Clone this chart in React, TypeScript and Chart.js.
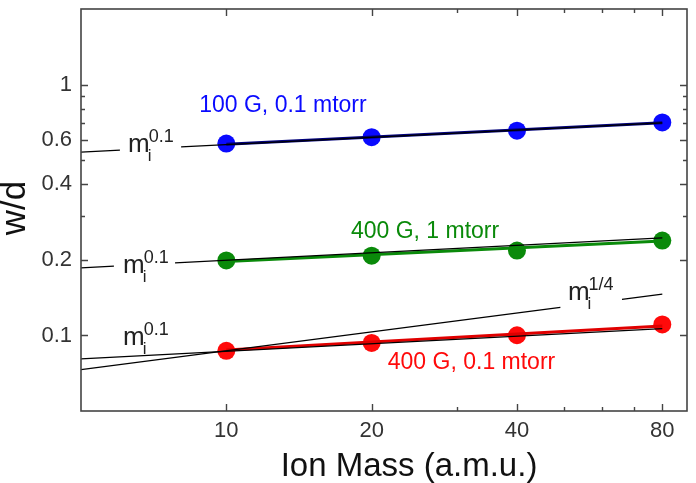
import React, { useEffect, useRef } from "react";
import { Chart, registerables } from "chart.js";

Chart.register(...registerables);

// Measured w/d against ion mass
const ionMass = [10, 20, 40, 80];
const wd100G01 = [0.582, 0.617, 0.655, 0.706];
const wd400G1 = [0.199, 0.208, 0.218, 0.239];
const wd400G01 = [0.0869, 0.0934, 0.1002, 0.1106];

// Fitted lines through each series (end points)
const fitMass = [10, 80];
const fit100G01 = [0.578, 0.705];
const fit400G1 = [0.197, 0.238];
const fit400G01 = [0.0875, 0.109];

// Power-law guide lines; a null leaves room for the label
const guideMassBlue = [5, 6.02, 7, 8.06, 80];
const guideBlue = [0.538, 0.548, null, 0.564, 0.703];
const guideMassGreen = [5, 5.85, 6.8, 7.83, 80];
const guideGreen = [0.186, 0.189, null, 0.1945, 0.245];
const guideMassRed = [5, 80];
const guideRed = [0.0807, 0.1065];
const guideMassQuarter = [5, 49.2, 57, 66, 80];
const guideQuarter = [0.0731, 0.1295, null, 0.1393, 0.146];

// Axis ticks
const xTickValues = [10, 20, 40, 80];
const xTickLabels = ["10", "20", "40", "80"];
const xMinorValues = [30, 50, 60, 70];
const yTickValues = [0.1, 0.2, 0.4, 0.6, 1];
const yTickLabels = ["0.1", "0.2", "0.4", "0.6", "1"];
const yMinorValues = [0.3, 0.5, 0.7, 0.8, 0.9];

// Text
const seriesNames = ["100 G, 0.1 mtorr", "400 G, 1 mtorr", "400 G, 0.1 mtorr"];
const xTitle = "Ion Mass (a.m.u.)";
const yTitle = "w/d";

const FONT = "'Liberation Sans', Arial, sans-serif";
const BLUE = "#0a0aff";
const GREEN = "#0a8a0a";
const RED = "#ff0a0a";

const toPts = (xs: number[], ys: (number | null)[]) =>
  xs.map((x, i) => ({ x, y: ys[i] }));

// Where the series names and exponent labels sit, in data units
const seriesLabelPos = [
  { x: 13.1, y: 0.822, color: BLUE },
  { x: 25.8, y: 0.26, color: GREEN },
  { x: 32.2, y: 0.0776, color: RED },
];
const powerLabelPos = [
  { x: 6.26, y: 0.536, exp: "0.1" },
  { x: 6.11, y: 0.177, exp: "0.1" },
  { x: 6.11, y: 0.0915, exp: "0.1" },
  { x: 51.0, y: 0.139, exp: "1/4" },
];

const decorations = {
  id: "decorations",
  afterDatasetsDraw(chart: any) {
    const { ctx, chartArea: a, scales } = chart;
    const xs = scales.x;
    const ys = scales.y;
    ctx.save();

    // frame
    ctx.strokeStyle = "#444";
    ctx.lineWidth = 1.6;
    ctx.strokeRect(a.left, a.top, a.right - a.left, a.bottom - a.top);

    // inward ticks on all four sides
    ctx.lineWidth = 1.4;
    const xTick = (v: number, len: number) => {
      const p = Math.round(xs.getPixelForValue(v)) + 0.5;
      ctx.beginPath();
      ctx.moveTo(p, a.bottom);
      ctx.lineTo(p, a.bottom - len);
      ctx.moveTo(p, a.top);
      ctx.lineTo(p, a.top + len);
      ctx.stroke();
    };
    const yTick = (v: number, len: number) => {
      const p = Math.round(ys.getPixelForValue(v)) + 0.5;
      ctx.beginPath();
      ctx.moveTo(a.left, p);
      ctx.lineTo(a.left + len, p);
      ctx.moveTo(a.right, p);
      ctx.lineTo(a.right - len, p);
      ctx.stroke();
    };
    xTickValues.forEach((v) => xTick(v, 7));
    xMinorValues.forEach((v) => xTick(v, 4));
    yTickValues.forEach((v) => yTick(v, 7));
    yMinorValues.forEach((v) => yTick(v, 4));

    // series names
    ctx.textAlign = "center";
    ctx.textBaseline = "middle";
    ctx.font = `23px ${FONT}`;
    seriesLabelPos.forEach((p, i) => {
      ctx.fillStyle = p.color;
      ctx.fillText(seriesNames[i], xs.getPixelForValue(p.x), ys.getPixelForValue(p.y));
    });

    // m_i^p labels
    ctx.textAlign = "left";
    ctx.textBaseline = "alphabetic";
    ctx.fillStyle = "#222";
    powerLabelPos.forEach((p) => {
      const px = xs.getPixelForValue(p.x);
      const py = ys.getPixelForValue(p.y);
      ctx.font = `26px ${FONT}`;
      ctx.fillText("m", px, py);
      const w = ctx.measureText("m").width;
      ctx.font = `17px ${FONT}`;
      ctx.fillText("i", px + w - 2, py + 9);
      ctx.font = `18px ${FONT}`;
      ctx.fillText(p.exp, px + w - 1, py - 10);
    });

    // axis titles
    ctx.fillStyle = "#111";
    ctx.font = `33px ${FONT}`;
    ctx.textAlign = "center";
    ctx.fillText(xTitle, (a.left + a.right) / 2 + 25, 476);
    ctx.save();
    ctx.font = `35px ${FONT}`;
    ctx.translate(25, (a.top + a.bottom) / 2 - 2);
    ctx.rotate(-Math.PI / 2);
    ctx.fillText(yTitle, 0, 0);
    ctx.restore();

    ctx.restore();
  },
};

export default function App() {
  const canvasRef = useRef<HTMLCanvasElement | null>(null);

  useEffect(() => {
    const canvas = canvasRef.current;
    if (!canvas) return;

    const pointSet = (data: number[], color: string) => ({
      data: toPts(ionMass, data),
      showLine: false,
      pointRadius: 9,
      pointHoverRadius: 9,
      pointBackgroundColor: color,
      pointBorderWidth: 0,
      borderColor: color,
      order: 3,
    });
    const fitSet = (data: number[], color: string) => ({
      data: toPts(fitMass, data),
      borderColor: color,
      borderWidth: 3,
      pointRadius: 0,
      order: 2,
    });
    const guideSet = (xs: number[], data: (number | null)[]) => ({
      data: toPts(xs, data),
      borderColor: "#000",
      borderWidth: 1.3,
      pointRadius: 0,
      spanGaps: false,
      order: 1,
    });

    const chart = new Chart(canvas, {
      type: "line",
      data: {
        datasets: [
          pointSet(wd100G01, BLUE),
          pointSet(wd400G1, GREEN),
          pointSet(wd400G01, RED),
          fitSet(fit100G01, "#00007a"),
          fitSet(fit400G1, GREEN),
          fitSet(fit400G01, "#e00000"),
          guideSet(guideMassBlue, guideBlue),
          guideSet(guideMassGreen, guideGreen),
          guideSet(guideMassRed, guideRed),
          guideSet(guideMassQuarter, guideQuarter),
        ] as any,
      },
      options: {
        animation: false,
        responsive: true,
        maintainAspectRatio: false,
        layout: { padding: { top: 8, right: 9, left: 0, bottom: 0 } },
        plugins: {
          legend: { display: false },
          tooltip: { enabled: false },
        },
        scales: {
          x: {
            type: "logarithmic",
            min: 5,
            max: 90,
            grid: { display: false, drawTicks: false },
            border: { display: false },
            afterBuildTicks: (s: any) => {
              s.ticks = xTickValues.map((value) => ({ value }));
            },
            afterFit: (s: any) => {
              s.height = 72;
              s.paddingLeft = 0;
              s.paddingRight = 0;
            },
            ticks: {
              autoSkip: false,
              maxRotation: 0,
              padding: 7,
              color: "#333",
              font: { family: FONT, size: 22 },
              callback: (v: any) => xTickLabels[xTickValues.indexOf(Number(v))] ?? "",
            },
          },
          y: {
            type: "logarithmic",
            min: 0.05,
            max: 2,
            grid: { display: false, drawTicks: false },
            border: { display: false },
            afterBuildTicks: (s: any) => {
              s.ticks = yTickValues.map((value) => ({ value }));
            },
            afterFit: (s: any) => {
              s.width = 81;
              s.paddingTop = 0;
              s.paddingBottom = 0;
            },
            ticks: {
              autoSkip: false,
              padding: 9,
              color: "#333",
              font: { family: FONT, size: 22 },
              callback: (v: any) => yTickLabels[yTickValues.indexOf(Number(v))] ?? "",
            },
          },
        },
      } as any,
      plugins: [decorations],
    });

    return () => chart.destroy();
  }, []);

  return (
    <div
      style={{
        position: "fixed",
        left: 0,
        top: 0,
        width: 696,
        height: 483,
        background: "#fff",
      }}
    >
      <canvas ref={canvasRef} />
    </div>
  );
}
